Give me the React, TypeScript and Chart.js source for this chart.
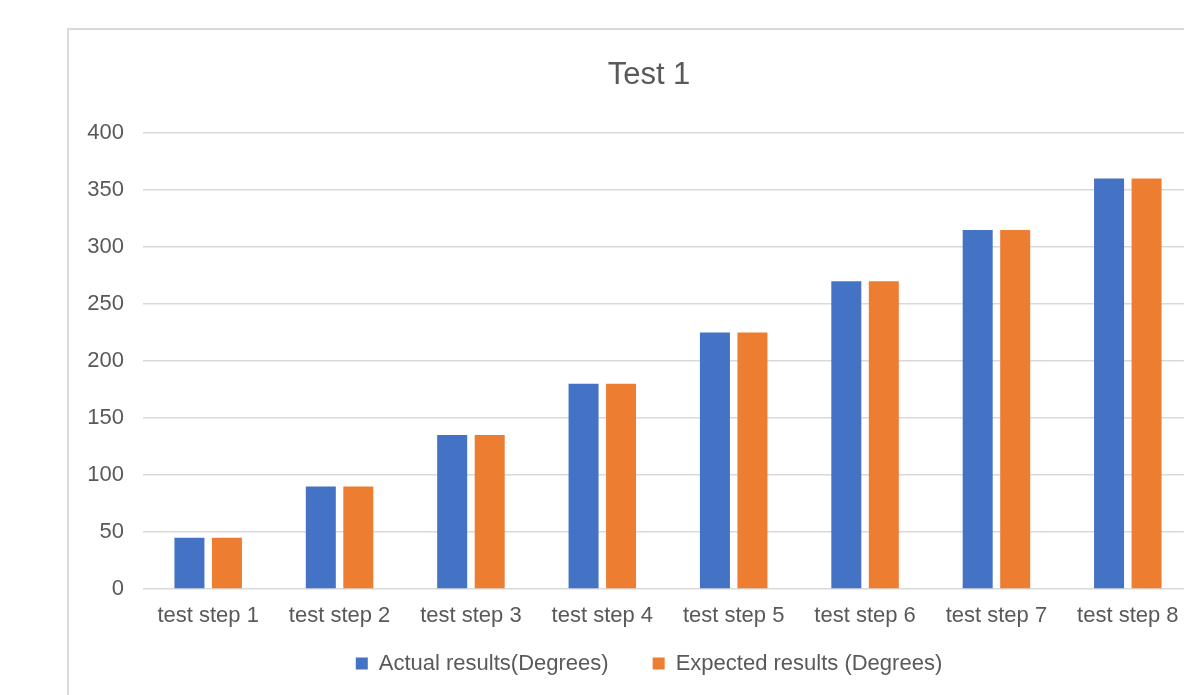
import React, { useEffect, useRef } from "react";
import { Chart, registerables } from "chart.js";

Chart.register(...registerables);

const categories = [
  "test step 1",
  "test step 2",
  "test step 3",
  "test step 4",
  "test step 5",
  "test step 6",
  "test step 7",
  "test step 8",
];
const actualResults = [45, 90, 135, 180, 225, 270, 315, 360];
const expectedResults = [45, 90, 135, 180, 225, 270, 315, 360];
const seriesNames = ["Actual results(Degrees)", "Expected results (Degrees)"];
const chartTitle = "Test 1";

const FONT = "'Liberation Sans', Arial, sans-serif";
const TEXT = "#595959";
const GRID = "#d9d9d9";

// moves the legend up closer to the x axis labels (legend padding is shared
// between horizontal item spacing and vertical spacing in Chart.js)
const legendLift = {
  id: "legendLift",
  afterLayout(chart: any) {
    const lg = chart.legend;
    const x = chart.scales.x;
    if (!lg || !x) return;
    const h = lg.height;
    lg.top = x.top + 19.5;
    lg.bottom = lg.top + h;
  },
};

export default function App() {
  const ref = useRef<HTMLCanvasElement | null>(null);

  useEffect(() => {
    if (!ref.current) return;
    const chart = new Chart(ref.current, {
      type: "bar",
      data: {
        labels: categories,
        datasets: [
          {
            label: seriesNames[0],
            data: actualResults,
            backgroundColor: "#4472C4",
            categoryPercentage: 0.571,
            barPercentage: 0.8,
          },
          {
            label: seriesNames[1],
            data: expectedResults,
            backgroundColor: "#ED7D31",
            categoryPercentage: 0.571,
            barPercentage: 0.8,
          },
        ],
      },
      plugins: [legendLift],
      options: {
        responsive: false,
        animation: false,
        devicePixelRatio: 1,
        layout: { padding: { left: 0, right: 0, top: 0, bottom: 0 } },
        plugins: {
          title: {
            display: true,
            text: chartTitle,
            color: TEXT,
            font: { family: FONT, size: 31, weight: "normal", lineHeight: 1.2 },
            padding: { top: 27, bottom: 38.8 },
          },
          legend: {
            position: "bottom",
            labels: {
              color: TEXT,
              font: { family: FONT, size: 22 },
              boxWidth: 12,
              boxHeight: 12,
              padding: 44,
            },
          },
          tooltip: { enabled: false },
        },
        scales: {
          x: {
            grid: { display: false, drawTicks: false },
            border: { display: false },
            ticks: {
              color: TEXT,
              font: { family: FONT, size: 22 },
              padding: 14,
              maxRotation: 0,
              autoSkip: false,
            },
            afterFit: (s: any) => {
              s.height = 40;
            },
          },
          y: {
            min: 0,
            max: 400,
            grid: { color: GRID, lineWidth: 1.5, drawTicks: false },
            border: { display: false },
            ticks: {
              stepSize: 50,
              color: TEXT,
              font: { family: FONT, size: 22 },
              padding: 18.5,
            },
            afterFit: (s: any) => {
              s.width = 73.5;
            },
          },
          yR: {
            position: "right",
            display: true,
            grid: { display: false, drawTicks: false },
            border: { display: false },
            ticks: { display: false },
            afterFit: (s: any) => {
              s.width = 35.5;
            },
          },
        },
      },
    });
    return () => chart.destroy();
  }, []);

  return (
    <div
      style={{
        position: "fixed",
        left: 0,
        top: 0,
        width: 1184,
        height: 695,
        overflow: "hidden",
        background: "#ffffff",
      }}
    >
      <div
        style={{
          position: "absolute",
          left: 67,
          top: 28,
          borderLeft: "2px solid #d9d9d9",
          borderTop: "2px solid #d9d9d9",
          width: 1160,
          height: 675,
        }}
      >
        <canvas
          ref={ref}
          width={1160}
          height={675}
          style={{ display: "block", width: 1160, height: 675 }}
        />
      </div>
    </div>
  );
}
